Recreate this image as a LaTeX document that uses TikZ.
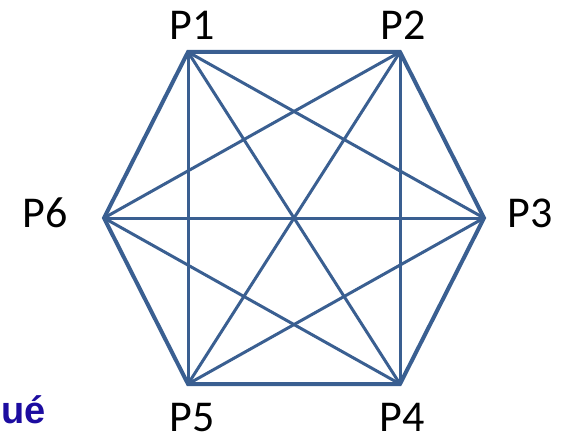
\documentclass[tikz,border=0pt]{standalone}
\usepackage{fontspec}
\setmainfont{Carlito}
\newfontfamily\arialfont{Liberation Sans}
\definecolor{edgeblue}{RGB}{58,95,145}
\definecolor{textblue}{RGB}{28,12,160}
\begin{document}
\begin{tikzpicture}[x=1pt,y=-1pt,
  lbl/.style={font=\fontsize{44}{44}\selectfont, inner sep=0pt, anchor=base},
  hexedge/.style={draw=edgeblue, line width=4pt, line join=miter},
  inedge/.style={draw=edgeblue, line width=3pt}]
\useasboundingbox (0,0) rectangle (561,441);
\coordinate (p1) at (188,52);
\coordinate (p2) at (400,52);
\coordinate (p3) at (484,218);
\coordinate (p4) at (400,384);
\coordinate (p5) at (188,384);
\coordinate (p6) at (104,218);
% inner edges
\draw[inedge] (p1) -- (p3);
\draw[inedge] (p1) -- (p4);
\draw[inedge] (p1) -- (p5);
\draw[inedge] (p2) -- (p4);
\draw[inedge] (p2) -- (p5);
\draw[inedge] (p2) -- (p6);
\draw[inedge] (p3) -- (p5);
\draw[inedge] (p3) -- (p6);
\draw[inedge] (p4) -- (p6);
% outer hexagon
\draw[hexedge] (p1) -- (p2) -- (p3) -- (p4) -- (p5) -- (p6) -- cycle;
% labels
\node[lbl] (l1) at (192,40) {P1};
\node[lbl] (l2) at (403,40) {P2};
\node[lbl] (l3) at (530,227) {P3};
\node[lbl] (l4) at (402,431) {P4};
\node[lbl] (l5) at (192,431) {P5};
\node[lbl] (l6) at (45,227) {P6};
\node[font=\arialfont\bfseries\fontsize{38}{38}\selectfont, text=textblue, inner sep=0pt, anchor=base east] (ue) at (46,423) {ué};
\end{tikzpicture}
\end{document}
